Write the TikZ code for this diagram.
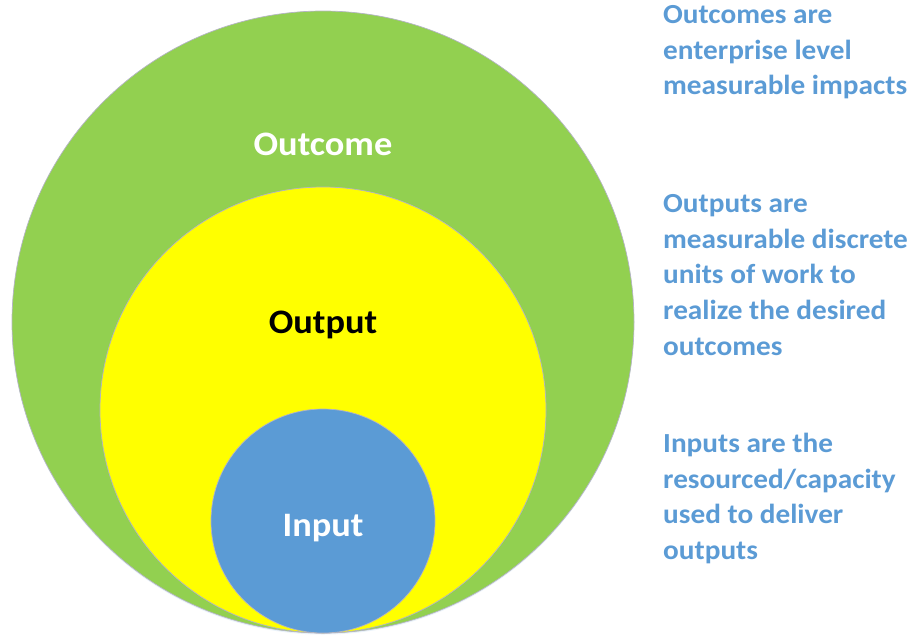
\documentclass[tikz,border=0pt]{standalone}
\usepackage{fontspec}
\setmainfont{Carlito}
\newfontfamily\widefont[FakeStretch=1.06]{Carlito}
\definecolor{outcomegreen}{HTML}{92D050}
\definecolor{outputyellow}{HTML}{FFFF00}
\definecolor{inputblue}{HTML}{5B9BD5}
\definecolor{rimgray}{HTML}{B4B4C4}
\begin{document}
\begin{tikzpicture}[x=1pt,y=-1pt,
  disc/.style={draw=rimgray,line width=0.7pt},
  ringlabel/.style={font=\widefont\bfseries\fontsize{34.3}{40}\selectfont,
    inner sep=0pt,anchor=base},
  note/.style={font=\widefont\bfseries\fontsize{27.6}{35.7}\selectfont,text=inputblue,
    align=left,anchor=north west,inner sep=0pt}]
\useasboundingbox (0,0) rectangle (913,638);
% nested circles, all touching at the bottom
\fill[inputblue!25,opacity=0.5] (323,323.5) circle[radius=311];
\path[disc,fill=outcomegreen] (323,322) circle[radius=311];
\path[disc,fill=outputyellow] (323,410) circle[radius=223];
\path[disc,fill=inputblue] (323,521) circle[radius=112];
% circle labels
\node[ringlabel,text=white] (outcome) at (323,155) {Outcome};
\node[ringlabel,text=black] (output) at (323,333) {Output};
\node[ringlabel,text=white] (input) at (323,536) {Input};
% descriptions
\node[note] (outcomenote) at (663,5) {Outcomes are\\enterprise level\\measurable impacts};
\node[note] (outputnote) at (663,194) {Outputs are\\measurable discrete\\units of work to\\realize the desired\\outcomes};
\node[note] (inputnote) at (663,433) {Inputs are the\\resourced/capacity\\used to deliver\\outputs};
\end{tikzpicture}
\end{document}
